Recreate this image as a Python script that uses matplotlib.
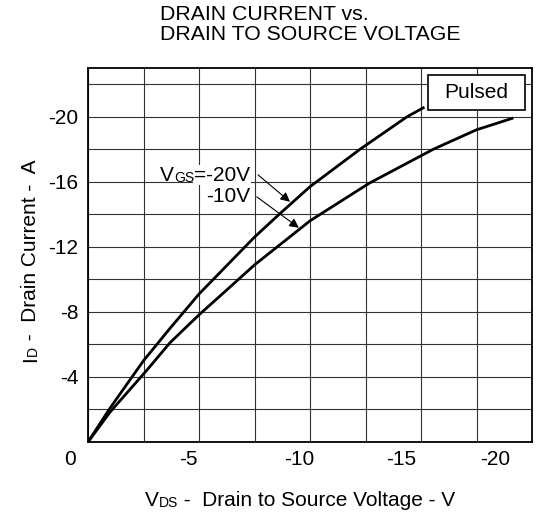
import numpy as np
import matplotlib
matplotlib.use("Agg")
import matplotlib.pyplot as plt
import matplotlib.transforms as mtransforms
from matplotlib.patches import Rectangle

plt.rcParams["font.family"] = ["Liberation Sans", "DejaVu Sans"]

# VGS = -20 V curve
vds_20 = [0, -1.0, -2.5, -3.7, -5.0, -7.5, -8.65, -10.0, -12.25, -14.37, -15.1]
id_20 = [0, -2.1, -5.0, -7.0, -9.1, -12.6, -14.05, -15.7, -18.0, -20.0, -20.55]

# VGS = -10 V curve
vds_10 = [0, -1.0, -2.64, -3.69, -5.0, -6.25, -7.5, -10.0, -12.65, -15.55, -17.5, -19.1]
id_10 = [0, -1.85, -4.4, -6.1, -7.82, -9.35, -10.89, -13.6, -15.9, -18.0, -19.2, -19.9]

x_tick_values = [0, -5, -10, -15, -20]
x_tick_labels = ["0", "-5", "-10", "-15", "-20"]
y_tick_values = [-4, -8, -12, -16, -20]
y_tick_labels = ["-4", "-8", "-12", "-16", "-20"]

FS = 15
SMALL = 10

fig = plt.figure(figsize=(5.49, 5.13), dpi=100)
ax = fig.add_axes([88 / 549, 71 / 513, 444 / 549, 374 / 513])

ax.plot(vds_20, id_20, color="black", lw=2.0, zorder=3)
ax.plot(vds_10, id_10, color="black", lw=2.0, zorder=3)

# grid every 2.5 V / 2 A, labels on the major ticks
ax.set_xticks(np.arange(0, -20.1, -2.5), minor=True)
ax.set_yticks(np.arange(0, -22.1, -2), minor=True)
ax.set_xticks(x_tick_values, x_tick_labels)
ax.set_yticks(y_tick_values, y_tick_labels)
ax.set_xlim(0, -20)
ax.set_ylim(0, -23)
ax.grid(which="both", color="#333333", lw=0.8)
ax.tick_params(which="both", length=0)
ax.tick_params(axis="x", pad=6, labelsize=FS)
ax.tick_params(axis="y", pad=7, labelsize=FS)
for s in ax.spines.values():
    s.set_linewidth(1.3)

# the x labels sit left of their gridlines in the original sheet
shifts_px = [-18, -11, -11, -20, -37]
for lab, dx in zip(ax.get_xticklabels(), shifts_px):
    lab.set_transform(lab.get_transform()
                      + mtransforms.ScaledTranslation(dx / 100, 0, fig.dpi_scale_trans))

# Pulsed box
ax.add_patch(Rectangle((0.766, 0.888), 0.218, 0.093, transform=ax.transAxes,
                       facecolor="white", edgecolor="black", lw=1.2, zorder=4))
ax.text(0.875, 0.9345, "Pulsed", transform=ax.transAxes, ha="center",
        va="center", fontsize=FS, zorder=5)

# VGS labels
t20 = ax.text(-7.3, -16.06, "=-20V", ha="right", va="baseline", fontsize=FS,
              bbox=dict(facecolor="white", edgecolor="none", pad=0.5))
tgs = ax.annotate("GS", xy=(0, 0), xycoords=(t20, t20), ha="right",
                  va="bottom", fontsize=SMALL)
ax.annotate("V", xy=(0, 0), xycoords=(tgs, t20), ha="right", va="bottom",
            fontsize=FS)
ax.text(-7.3, -14.77, "-10V", ha="right", va="baseline", fontsize=FS)

arrow = dict(arrowstyle="-|>", color="black", lw=0.8, mutation_scale=14,
             shrinkA=0, shrinkB=0)
ax.annotate("", xy=(-9.1, -14.77), xytext=(-7.66, -16.43), arrowprops=arrow)
ax.annotate("", xy=(-9.5, -13.17), xytext=(-7.6, -15.08), arrowprops=arrow)

# title
fig.text(160 / 549, 0.99, "DRAIN CURRENT vs.\nDRAIN TO SOURCE VOLTAGE",
         ha="left", va="top", fontsize=15.3, linespacing=1.08)

# x label: V + small DS
xv = fig.text(145 / 549, 7 / 513, "V", ha="left", va="baseline", fontsize=FS)
xds = ax.annotate("DS", xy=(1, 0), xycoords=(xv, xv), ha="left", va="bottom",
                  fontsize=SMALL, annotation_clip=False)
ax.annotate(" -  Drain to Source Voltage - V", xy=(1, 0), xycoords=(xds, xv),
            ha="left", va="bottom", fontsize=FS, annotation_clip=False)

# y label: I + small D, rotated
yi = fig.text(40 / 549, 151 / 513, "I", rotation=90, ha="right", va="bottom",
              fontsize=FS)
yd = ax.annotate("D", xy=(1, 1), xycoords=(yi, yi), rotation=90, ha="right",
                 va="bottom", fontsize=SMALL, annotation_clip=False)
ax.annotate(" -  Drain Current -  A", xy=(1, 1), xycoords=(yi, yd),
            rotation=90, ha="right", va="bottom", fontsize=FS,
            annotation_clip=False)

fig.savefig("out.png", dpi=100)
